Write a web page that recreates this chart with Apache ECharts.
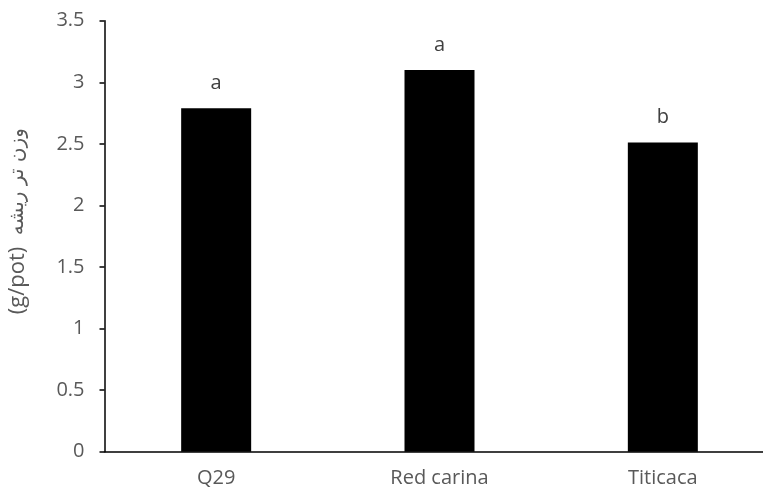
<!DOCTYPE html>
<html><head><meta charset="utf-8">
<script src="https://cdn.jsdelivr.net/npm/echarts@6/dist/echarts.min.js"></script>
<style>html,body{margin:0;padding:0;background:#fff}#c{width:763px;height:493px}</style>
</head><body><div id="c"></div>
<script>
const categories = ["Q29", "Red carina", "Titicaca"];
const values = [2.79, 3.1, 2.51];
const letters = ["a", "a", "b"];
const yTicks = [0, 0.5, 1, 1.5, 2, 2.5, 3, 3.5];
const yTitleUnit = "(g/pot)";
const yTitleText = "وزن تر ریشه";

const font = "'Open Sans', 'DejaVu Sans', sans-serif";
const chart = echarts.init(document.getElementById('c'));
chart.setOption({
  animation: false,
  grid: { left: 104.5, top: 20.7, bottom: 41.3, right: -11.5, outerBoundsMode: 'none', containLabel: false },
  xAxis: {
    type: 'category', data: categories,
    axisLine: { lineStyle: { color: '#000', width: 1.5 } },
    axisTick: { show: false },
    axisLabel: { color: '#595959', fontSize: 20, fontFamily: font, margin: 17 }
  },
  yAxis: {
    type: 'value', min: yTicks[0], max: yTicks[yTicks.length-1], interval: 0.5,
    name: '{u|' + yTitleUnit + '}  {a|' + yTitleText + '}',
    nameLocation: 'middle', nameRotate: 90, nameGap: 76,
    nameTextStyle: { color: '#595959', fontSize: 22, fontFamily: font, padding: [0, 0, 0, 30],
      rich: {
        u: { color: '#595959', fontSize: 22, fontFamily: font },
        a: { color: '#595959', fontSize: 20, fontFamily: "'DejaVu Sans', sans-serif" }
      } },
    axisLine: { show: true, lineStyle: { color: '#000', width: 1.5 } },
    axisTick: { show: true, length: 5, lineStyle: { color: '#000', width: 1.5 } },
    splitLine: { show: false },
    axisLabel: { color: '#595959', fontSize: 20, fontFamily: font, margin: 20,
      formatter: v => yTicks.includes(v) ? String(v) : '' }
  },
  series: [{
    type: 'bar', barWidth: 70,
    data: values.map((v, i) => ({ value: v, label: { formatter: letters[i] } })),
    itemStyle: { color: '#000' },
    label: { show: true, position: 'top', distance: 15, color: '#404040', fontSize: 20, fontFamily: font }
  }]
});
</script></body></html>
